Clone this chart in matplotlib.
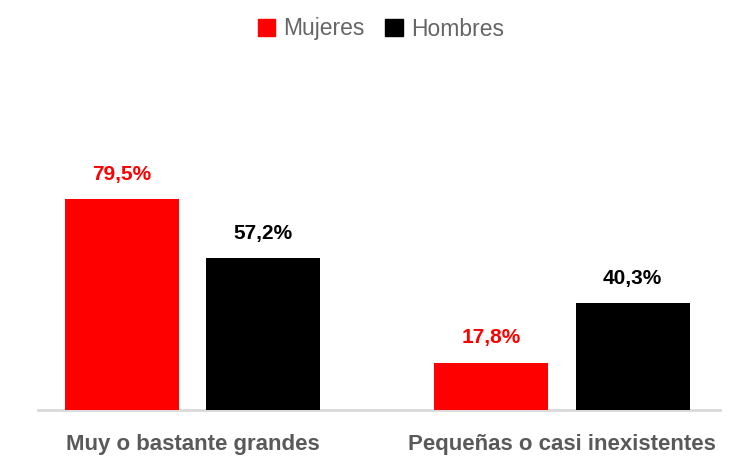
import matplotlib.pyplot as plt
import numpy as np
from matplotlib import font_manager as fm
from matplotlib.patches import Patch

categorias = ['Muy o bastante grandes', 'Pequeñas o casi inexistentes']
series = ['Mujeres', 'Hombres']
mujeres = [79.5, 17.8]
hombres = [57.2, 40.3]
etiquetas_m = ['79,5%', '17,8%']
etiquetas_h = ['57,2%', '40,3%']

nombres = {f.name for f in fm.fontManager.ttflist}
fam = [f for f in ['Liberation Sans Narrow', 'Liberation Sans', 'DejaVu Sans'] if f in nombres]
plt.rcParams['font.family'] = fam

fig = plt.figure(figsize=(7.4, 4.57), dpi=100)
ax = fig.add_axes([38 / 740, 1 - 410 / 457, 682 / 740, 360 / 457])

x = np.arange(len(categorias))
w = 0.3085
off = 0.191
b1 = ax.bar(x - off, mujeres, w, color='#ff0000', zorder=3)
b2 = ax.bar(x + off, hombres, w, color='#000000', zorder=3)

for rect, t in zip(b1, etiquetas_m):
    ax.annotate(t, (rect.get_x() + rect.get_width() / 2, rect.get_height()),
                xytext=(0, 11), textcoords='offset points', ha='center', va='bottom',
                fontsize=15, fontweight='bold', color='#ff0000')
for rect, t in zip(b2, etiquetas_h):
    ax.annotate(t, (rect.get_x() + rect.get_width() / 2, rect.get_height()),
                xytext=(0, 11), textcoords='offset points', ha='center', va='bottom',
                fontsize=15, fontweight='bold', color='#000000')

ax.set_xlim(-0.418, 1.4276)
ax.set_ylim(0, 135.6)
ax.set_yticks([])
ax.set_xticks(x)
ax.set_xticklabels(categorias, fontsize=16, fontweight='bold', color='#595959')
ax.tick_params(axis='x', length=0, pad=17)
for s in ['top', 'right', 'left']:
    ax.spines[s].set_visible(False)
ax.spines['bottom'].set_color('#d9d9d9')
ax.spines['bottom'].set_linewidth(2)

handles = [Patch(color='#ff0000'), Patch(color='#000000')]
leg = fig.legend(handles, series, loc='center', bbox_to_anchor=(381 / 740, 1 - 29 / 457),
                 ncol=2, frameon=False, fontsize=16.5, handlelength=0.75, handleheight=0.75,
                 handletextpad=0.35, columnspacing=0.9)
for t in leg.get_texts():
    t.set_color('#666666')

fig.savefig('out.png', dpi=100)
